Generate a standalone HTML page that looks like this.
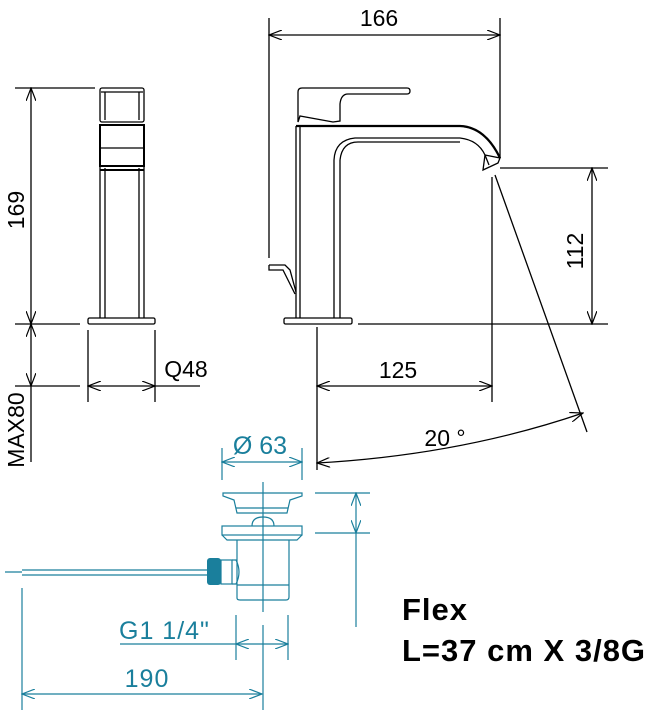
<!DOCTYPE html>
<html><head><meta charset="utf-8"><style>
body{margin:0;background:#fff}
svg{display:block}
text{font-family:"Liberation Sans",sans-serif}
</style></head><body>
<svg width="658" height="711" viewBox="0 0 658 711" xmlns="http://www.w3.org/2000/svg">
<defs>
<marker id="a" markerWidth="14" markerHeight="10" refX="13" refY="5" orient="auto-start-reverse" markerUnits="userSpaceOnUse"><path d="M0,0 L13,5 L0,10" fill="none" stroke="#000" stroke-width="1.2"/></marker>
<marker id="b" markerWidth="14" markerHeight="10" refX="13" refY="5" orient="auto-start-reverse" markerUnits="userSpaceOnUse"><path d="M0,0 L13,5 L0,10" fill="none" stroke="#1a7f9c" stroke-width="1.2"/></marker>
</defs>
<g stroke="#000" stroke-width="1.3" fill="none">
<line x1="15" y1="88" x2="95" y2="88"/>
<line x1="15" y1="324" x2="80" y2="324"/>
<line x1="15" y1="386" x2="80" y2="386"/>
<line x1="31" y1="88" x2="31" y2="324" marker-start="url(#a)" marker-end="url(#a)"/>
<line x1="31" y1="324" x2="31" y2="386" marker-start="url(#a)" marker-end="url(#a)"/>
<line x1="31" y1="386" x2="31" y2="462"/>
<line x1="88" y1="330" x2="88" y2="402"/>
<line x1="155" y1="330" x2="155" y2="402"/>
<line x1="88" y1="386" x2="155" y2="386" marker-start="url(#a)" marker-end="url(#a)"/>
<line x1="155" y1="386" x2="200" y2="386"/>
<rect x="100" y="88" width="44" height="34" rx="2"/>
<line x1="101" y1="92" x2="143" y2="92"/>
<line x1="105" y1="92" x2="105" y2="120"/>
<line x1="139" y1="92" x2="139" y2="120"/>
<rect x="100" y="125" width="44" height="41" stroke-width="2"/>
<line x1="100" y1="148" x2="144" y2="148"/>
<line x1="100" y1="170" x2="144" y2="170" stroke-width="2"/>
<line x1="100" y1="166" x2="100" y2="318"/>
<line x1="105" y1="168" x2="105" y2="318"/>
<line x1="139" y1="168" x2="139" y2="318"/>
<line x1="144" y1="166" x2="144" y2="318"/>
<rect x="88" y="318" width="67" height="6" rx="1.5"/>
<line x1="269" y1="18" x2="269" y2="258"/>
<line x1="500" y1="18" x2="500" y2="158"/>
<line x1="269" y1="35" x2="500" y2="35" marker-start="url(#a)" marker-end="url(#a)"/>
<line x1="500" y1="168" x2="608" y2="168"/>
<line x1="358" y1="324" x2="608" y2="324"/>
<line x1="592" y1="168" x2="592" y2="324" marker-start="url(#a)" marker-end="url(#a)"/>
<line x1="317" y1="327" x2="317" y2="470"/>
<line x1="492" y1="177" x2="492" y2="402"/>
<line x1="317" y1="386" x2="492" y2="386" marker-start="url(#a)" marker-end="url(#a)"/>
<line x1="495" y1="175" x2="587" y2="432"/>
<path d="M317,463 Q460,455 583,413" marker-start="url(#a)" marker-end="url(#a)"/>
<path d="M298,122 L298,92 Q298,88 302,88 L407,88 Q410,88 410,91 Q410,94 407,94 L348,94 Q341,94 340,104 L340,121 L333,122 L300,116 Z"/>
<line x1="296" y1="126" x2="296" y2="318"/>
<line x1="300" y1="126" x2="300" y2="318"/>
<path d="M296,126 L460,126 Q485,127 500,158" stroke-width="2.3"/>
<path d="M334,318 L334,160 Q335,140 355,138 L460,138 Q478,140 485,155 L489,165"/>
<line x1="340" y1="160" x2="340" y2="318"/>
<path d="M340,160 Q342,142 358,142 L460,142"/>
<path d="M485,155 L500,158 L498,163 L483,170 Z"/>
<rect x="284" y="318" width="68" height="6" rx="1.5"/>
<path d="M269,265 L285,265 L290,270 L296,292 M269,265 L269,270 L283,270 L295,294"/>
</g>
<g fill="#000" font-size="23">
<text x="379" y="26" text-anchor="middle">166</text>
<text x="398" y="378" text-anchor="middle">125</text>
<text x="445" y="446" text-anchor="middle">20 °</text>
<text x="186" y="377" text-anchor="middle">Q48</text>
<text transform="translate(24,210) rotate(-90)" text-anchor="middle">169</text>
<text transform="translate(24,430) rotate(-90)" text-anchor="middle">MAX80</text>
<text transform="translate(583,251) rotate(-90)" text-anchor="middle">112</text>
</g>
<g stroke="#1a7f9c" stroke-width="1.2" fill="none">
<line x1="222" y1="448" x2="222" y2="480"/>
<line x1="302" y1="448" x2="302" y2="480"/>
<line x1="222" y1="462" x2="302" y2="462" marker-start="url(#b)" marker-end="url(#b)"/>
<line x1="263" y1="482" x2="263" y2="612"/>
<line x1="315" y1="493" x2="370" y2="493"/>
<line x1="315" y1="533" x2="370" y2="533"/>
<line x1="356" y1="493" x2="356" y2="533" marker-start="url(#b)" marker-end="url(#b)"/>
<line x1="356" y1="533" x2="356" y2="627"/>
<path d="M223,493 L302,493 L302,496 L290,500 L287,513 L237,513 L234,500 L223,496 Z"/>
<line x1="236" y1="508" x2="288" y2="508"/>
<rect x="222" y="526" width="80" height="9"/>
<path d="M222,535 L227,540 L297,540 L302,535"/>
<path d="M252,526 Q252,517 263,517 Q274,517 274,526"/>
<path d="M237,540 L237,598 Q237,600 240,600 L286,600 Q289,600 289,597 L289,540"/>
<line x1="237" y1="585" x2="289" y2="585"/>
<path d="M232,560 L236,560 Q242,572 236,584 L232,584"/>
<line x1="22" y1="570" x2="207" y2="570"/>
<line x1="22" y1="575" x2="207" y2="575"/>
<line x1="5" y1="572" x2="22" y2="572"/>
<line x1="22" y1="588" x2="22" y2="710"/>
<line x1="236" y1="615" x2="236" y2="660"/>
<line x1="288" y1="615" x2="288" y2="660"/>
<line x1="263" y1="625" x2="263" y2="710"/>
<line x1="120" y1="644" x2="236" y2="644"/>
<line x1="236" y1="644" x2="288" y2="644" marker-start="url(#b)" marker-end="url(#b)"/>
<line x1="22" y1="694" x2="262" y2="694" marker-start="url(#b)" marker-end="url(#b)"/>
</g>
<rect x="207" y="558" width="14" height="27" fill="#1a7f9c" rx="3"/>
<rect x="221" y="560" width="11" height="24" fill="none" stroke="#1a7f9c" stroke-width="1.2"/>
<g fill="#1a7f9c" font-size="25">
<text x="260" y="454" text-anchor="middle">Ø 63</text>
<text x="119" y="639" letter-spacing="1">G1 1/4"</text>
<text x="147" y="687" text-anchor="middle" letter-spacing="1">190</text>
</g>
<g fill="#000" font-size="31" font-weight="bold">
<text x="402" y="620" letter-spacing="1">Flex</text>
<text x="402" y="661" letter-spacing="1">L=37 cm X 3/8G</text>
</g>
</svg>
</body></html>
